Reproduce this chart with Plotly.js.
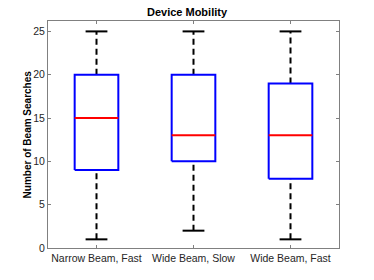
<!DOCTYPE html>
<html><head><meta charset="utf-8">
<script src="https://cdn.plot.ly/plotly-3.0.1.min.js"></script>
<style>html,body{margin:0;padding:0;background:#fff}#chart{width:374px;height:280px}</style>
</head><body><div id="chart"></div>
<script>
const categories = ["Narrow Beam, Fast", "Wide Beam, Slow", "Wide Beam, Fast"];
const lowerWhisker = [1, 2, 1];
const q1 = [9, 10, 8];
const median = [15, 13, 13];
const q3 = [20, 20, 19];
const upperWhisker = [25, 25, 25];
const yTicks = [0, 5, 10, 15, 20, 25];

const boxHalf = 0.225, capHalf = 0.1125;
const traces = [];
categories.forEach((c, i) => {
  const x = i + 1;
  traces.push({x:[x,x,null,x,x], y:[q3[i],upperWhisker[i],null,lowerWhisker[i],q1[i]], mode:'lines',
    line:{color:'#000', width:2, dash:'6px,4px'}, hoverinfo:'skip', showlegend:false});
  traces.push({x:[x-capHalf,x+capHalf,null,x-capHalf,x+capHalf], y:[upperWhisker[i],upperWhisker[i],null,lowerWhisker[i],lowerWhisker[i]], mode:'lines',
    line:{color:'#000', width:2}, hoverinfo:'skip', showlegend:false});
  traces.push({x:[x-boxHalf,x+boxHalf,x+boxHalf,x-boxHalf,x-boxHalf], y:[q1[i],q1[i],q3[i],q3[i],q1[i]], mode:'lines',
    line:{color:'#0000ff', width:2}, hoverinfo:'skip', showlegend:false});
  traces.push({x:[x-boxHalf,x+boxHalf], y:[median[i],median[i]], mode:'lines',
    line:{color:'#ff0000', width:2}, hoverinfo:'skip', showlegend:false});
});

const layout = {
  width:374, height:280,
  margin:{l:48, r:35, t:21, b:32},
  paper_bgcolor:'#fff', plot_bgcolor:'#fff',
  font:{family:'Liberation Sans, Arial, sans-serif', size:10.5, color:'#262626'},
  title:{text:'<b>Device Mobility</b>', font:{size:11, color:'#000'}, x:0.5, xanchor:'center', y:0.955, yanchor:'middle'},
  xaxis:{range:[0.5,3.5], tickvals:[1,2,3], ticktext:categories, ticks:'inside', ticklen:3, tickcolor:'#808080',
    showline:true, linecolor:'#808080', linewidth:1, mirror:'ticks', showgrid:false, zeroline:false, fixedrange:true,
    tickfont:{size:10.5, color:'#262626'}},
  yaxis:{range:[0,26.2], tickvals:yTicks, ticks:'inside', ticklen:3, tickcolor:'#808080',
    showline:true, linecolor:'#808080', linewidth:1, mirror:'ticks', showgrid:false, zeroline:false, fixedrange:true,
    tickfont:{size:10.5, color:'#262626'}},
  annotations:[{text:'<b>Number of Beam Searches</b>', xref:'paper', yref:'paper', x:-0.069, y:0.5,
    xanchor:'center', yanchor:'middle', textangle:-90, showarrow:false, font:{size:10, color:'#000'}}]
};
Plotly.newPlot('chart', traces, layout, {displayModeBar:false, staticPlot:true});
</script></body></html>
